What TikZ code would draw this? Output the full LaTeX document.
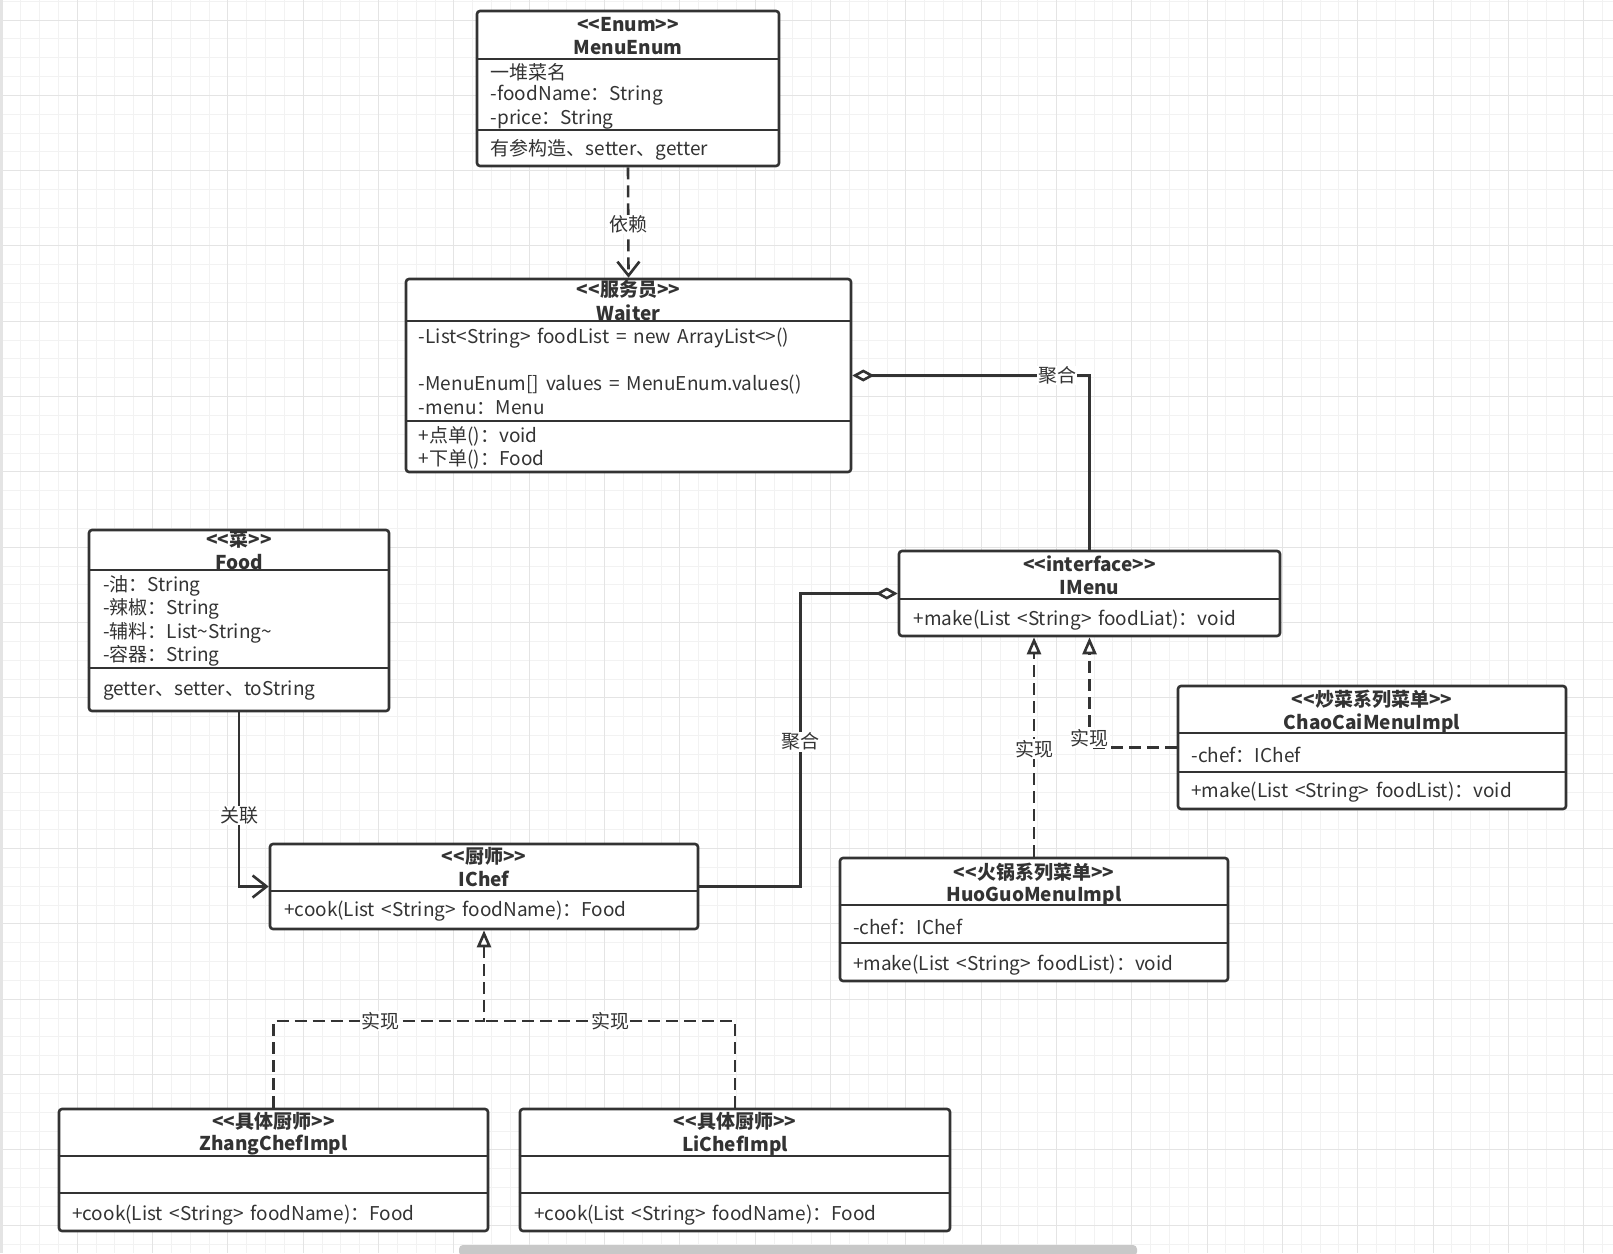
\documentclass[tikz,border=0pt]{standalone}
\usepackage{fontspec}
\setmainfont{Noto Sans CJK SC}[Ligatures=TeXOff, WordSpace=1.6]
\usetikzlibrary{arrows.meta}
\definecolor{ink}{HTML}{333333}
\definecolor{gminor}{HTML}{F2F2F2}
\definecolor{gmajor}{HTML}{E4E4E4}
\definecolor{scroll}{HTML}{C8C8C8}
\newcommand\fs{\fontsize{19}{23}\selectfont}
\newcommand\umlbox[5]{\node[cls, minimum width=#4pt, minimum height=#5pt] (#1) at (#2,#3) {};}
\newcommand\umlsep[2]{\draw[sepline] (#1.west |- 0,#2) -- (#1.east |- 0,#2);}
\begin{document}
\begin{tikzpicture}[x=1pt,y=-1pt,
  cls/.style={draw=ink, line width=2.6pt, fill=white, rounded corners=3pt, inner sep=0pt, rectangle},
  sepline/.style={draw=ink, line width=2.6pt},
  txt/.style={anchor=west, inner sep=0pt, font=\fs, text=ink, yshift=-1.8pt},
  ttl/.style={anchor=center, inner sep=0pt, font=\fs\bfseries, text=ink, yshift=-1.5pt},
  lbl/.style={fill=white, inner sep=1pt, font=\fs, text=ink},
  conn/.style={draw=ink, line width=2.6pt},
  dashline/.style={conn, dash pattern=on 12pt off 6pt},
  dep/.style={dashline, -{Straight Barb[length=14pt,width=22pt]}},
  assoc/.style={conn, -{Straight Barb[length=14pt,width=22pt]}},
  agg/.style={conn, -{Diamond[fill=white,length=22pt,width=12pt]}},
  real/.style={dashline, -{Triangle[fill=white,length=17pt,width=14pt]}},
]
\useasboundingbox (0,0) rectangle (1613,1253);
\fill[white] (0,0) rectangle (1613,1253);
% grid
\foreach \i in {0,...,86} {\draw[gminor, line width=1pt] ({2+18.83*\i},0) -- ++(0,1253);}
\foreach \i in {0,...,66} {\draw[gminor, line width=1pt] (0,{1.2+18.83*\i}) -- ++(1613,0);}
\foreach \i in {0,...,21} {\draw[gmajor, line width=1pt] ({2+75.32*\i},0) -- ++(0,1253);}
\foreach \i in {0,...,16} {\draw[gmajor, line width=1pt] (0,{20+75.32*\i}) -- ++(1613,0);}
\draw[gmajor, line width=3pt] (1,0) -- (1,1253);

% class boxes
\umlbox{menuenum}{628}{88.5}{302}{155}
\umlbox{waiter}{628.5}{375.5}{445}{193}
\umlbox{food}{239}{620.5}{300}{181}
\umlbox{imenu}{1089.5}{593.5}{381}{85}
\umlbox{chaocai}{1372}{747.5}{388}{123}
\umlbox{huoguo}{1034}{919.5}{388}{123}
\umlbox{ichef}{484}{886.5}{428}{85}
\umlbox{zhang}{273.5}{1170}{429}{122}
\umlbox{li}{735}{1170}{430}{122}

\umlsep{menuenum}{59}\umlsep{menuenum}{130}
\umlsep{waiter}{321}\umlsep{waiter}{421}
\umlsep{food}{570}\umlsep{food}{668}
\umlsep{imenu}{599}
\umlsep{chaocai}{733}\umlsep{chaocai}{772}
\umlsep{huoguo}{905}\umlsep{huoguo}{943}
\umlsep{ichef}{891}
\umlsep{zhang}{1156}\umlsep{zhang}{1193}
\umlsep{li}{1156}\umlsep{li}{1193}

% MenuEnum
\node[ttl] (me-s) at (628,22.6) {<<Enum>>};
\node[ttl] (me-n) at (628,46.3) {MenuEnum};
\node[txt] (me-a1) at (490.7,70) {一堆菜名};
\node[txt] (me-a2) at (490.7,93.6) {-foodName：String};
\node[txt] (me-a3) at (490.7,117.3) {-price：String};
\node[txt] (me-m1) at (490.7,148.1) {有参构造、setter、getter};

% Waiter
\node[ttl] (wa-s) at (628.5,288) {<<服务员>>};
\node[ttl] (wa-n) at (628.5,311.7) {Waiter};
\node[txt] (wa-a1) at (418.7,336.4) {-List<String> foodList = new ArrayList<>()};
\node[txt] (wa-a2) at (418.7,382.7) {-MenuEnum[] values = MenuEnum.values()};
\node[txt] (wa-a3) at (418.7,406.3) {-menu：Menu};
\node[txt] (wa-m1) at (418.7,434.1) {+点单()：void};
\node[txt] (wa-m2) at (418.7,457.8) {+下单()：Food};

% Food
\node[ttl] (fo-s) at (239,538) {<<菜>>};
\node[ttl] (fo-n) at (239,560.6) {Food};
\node[txt] (fo-a1) at (102.9,584.3) {-油：String};
\node[txt] (fo-a2) at (102.9,607) {-辣椒：String};
\node[txt] (fo-a3) at (102.9,630.6) {-辅料：List\textasciitilde String\textasciitilde};
\node[txt] (fo-a4) at (102.9,654.3) {-容器：String};
\node[txt] (fo-m1) at (102.9,689.2) {getter、setter、toString};

% IMenu
\node[ttl] (im-s) at (1089.5,562.7) {<<interface>>};
\node[ttl] (im-n) at (1089.5,586.4) {IMenu};
\node[txt] (im-m1) at (913.5,618.3) {+make(List <String> foodLiat)：void};

% ChaoCai
\node[ttl] (cc-s) at (1372,697.5) {<<炒菜系列菜单>>};
\node[ttl] (cc-n) at (1372,722.1) {ChaoCaiMenuImpl};
\node[txt] (cc-a1) at (1191.2,753) {-chef：IChef};
\node[txt] (cc-m1) at (1191.2,790) {+make(List <String> foodList)：void};

% HuoGuo
\node[ttl] (hg-s) at (1034,870.3) {<<火锅系列菜单>>};
\node[ttl] (hg-n) at (1034,894) {HuoGuoMenuImpl};
\node[txt] (hg-a1) at (852.8,924.8) {-chef：IChef};
\node[txt] (hg-m1) at (852.8,962.9) {+make(List <String> foodList)：void};

% IChef
\node[ttl] (ic-s) at (484,854.9) {<<厨师>>};
\node[ttl] (ic-n) at (484,877.5) {IChef};
\node[txt] (ic-m1) at (284,909.4) {+cook(List <String> foodName)：Food};

% Zhang
\node[ttl] (zh-s) at (273.5,1120.3) {<<具体厨师>>};
\node[ttl] (zh-n) at (273.5,1143.9) {ZhangChefImpl};
\node[txt] (zh-m1) at (72,1212.8) {+cook(List <String> foodName)：Food};

% Li
\node[ttl] (li-s) at (735,1120.3) {<<具体厨师>>};
\node[ttl] (li-n) at (735,1143.9) {LiChefImpl};
\node[txt] (li-m1) at (534,1212.8) {+cook(List <String> foodName)：Food};

% connectors
\draw[dep] (menuenum.south) -- node[lbl, pos=0.52] (l-dep) {依赖} (waiter.north);
\draw[agg] (imenu.north) |- node[lbl, pos=0.568] (l-agg1) {聚合} (waiter.east);
\draw[agg] (ichef.east) -- ++(101,0) |- node[lbl, pos=0.247] (l-agg2) {聚合} (imenu.west);
\draw[assoc] (food.south) |- node[lbl, pos=0.296] (l-asc) {关联} (ichef.west);
\draw[real] (huoguo.north) -- node[lbl, pos=0.49] (l-hg) {实现} (huoguo.north |- imenu.south);
\draw[real] (chaocai.west) -| node[lbl, pos=0.5, yshift=9pt] (l-cc) {实现} (imenu.south);
\path (ichef.south) ++(0,90.5) coordinate (jn);
\draw[real] (zhang.north) |- node[lbl, pos=0.753] (l-zh) {实现} (jn) -- (ichef.south);
\draw[dashline] (li.north) |- node[lbl, pos=0.749] (l-li) {实现} (jn);

% scrollbar
\fill[scroll, rounded corners=4pt] (459,1245) rectangle (1137,1256);
\end{tikzpicture}
\end{document}
